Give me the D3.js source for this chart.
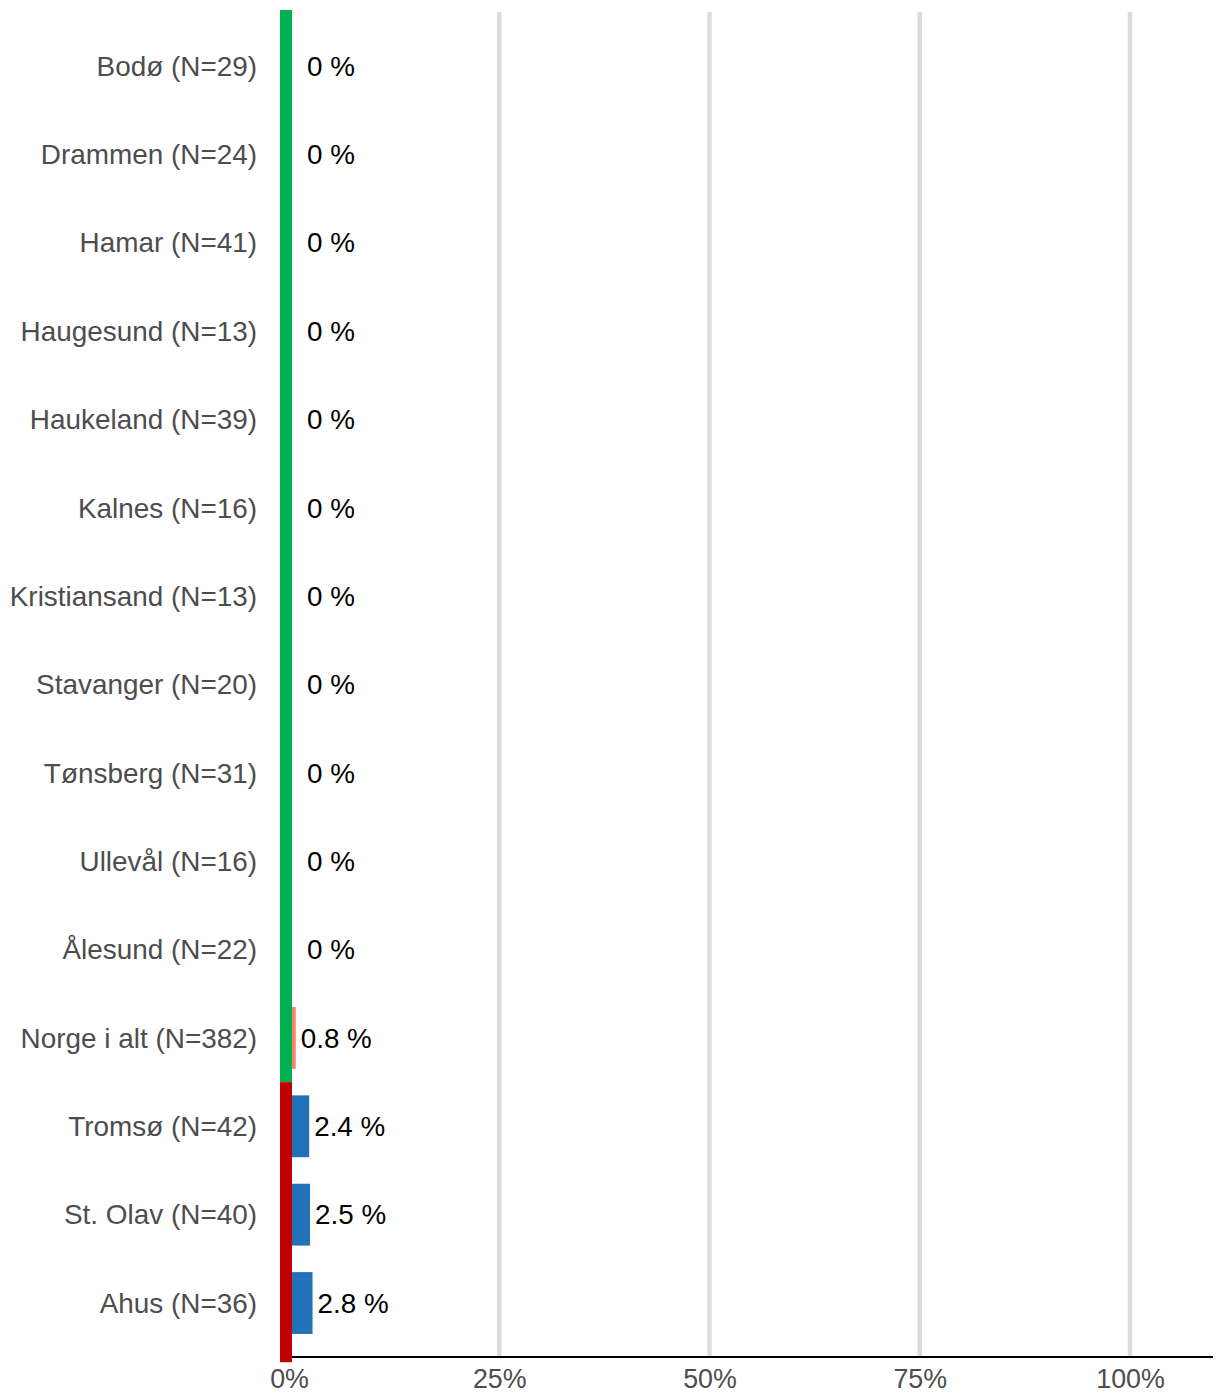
<!DOCTYPE html>
<html>
<head>
<meta charset="utf-8">
<script src="https://cdn.jsdelivr.net/npm/d3@7"></script>
<style>
  body { margin: 0; background: #fff; }
  text { font-family: "Liberation Sans", Arial, sans-serif; }
</style>
</head>
<body>
<div id="chart"></div>
<script>
var categories = ['Bodø (N=29)', 'Drammen (N=24)', 'Hamar (N=41)', 'Haugesund (N=13)',
  'Haukeland (N=39)', 'Kalnes (N=16)', 'Kristiansand (N=13)', 'Stavanger (N=20)',
  'Tønsberg (N=31)', 'Ullevål (N=16)', 'Ålesund (N=22)', 'Norge i alt (N=382)',
  'Tromsø (N=42)', 'St. Olav (N=40)', 'Ahus (N=36)'];
var values = [0, 0, 0, 0, 0, 0, 0, 0, 0, 0, 0, 0.8, 2.4, 2.5, 2.8];
var valueLabels = ['0 %', '0 %', '0 %', '0 %', '0 %', '0 %', '0 %', '0 %', '0 %', '0 %', '0 %',
  '0.8 %', '2.4 %', '2.5 %', '2.8 %'];
var totalLabel = 'Norge i alt (N=382)';
var ticks = [0, 25, 50, 75, 100];
var targetLimit = 1;

(function () {
  var width = 1216;
  var height = 1394;
  var margin = { top: 23, right: 3, bottom: 46, left: 289 };

  var data = categories.map(function (c, i) {
    return { name: c, value: values[i], label: valueLabels[i] };
  });

  var xScale = d3.scaleLinear().domain([0, 100]).range([289, 1130]);
  var yScale = d3.scaleBand().domain(categories)
      .range([margin.top - 1.2, 1347.2])
      .paddingInner(0.3).paddingOuter(0.15);
  var step = yScale.step();

  var svg = d3.select('#chart').append('svg')
      .attr('width', width)
      .attr('height', height);

  // gridlines
  svg.selectAll('line.grid').data(ticks.filter(function (t) { return t > 0; }))
    .enter().append('line')
      .attr('class', 'grid')
      .attr('x1', function (d) { return xScale(d); })
      .attr('x2', function (d) { return xScale(d); })
      .attr('y1', 12)
      .attr('y2', 1357)
      .attr('stroke', '#dcdcdc')
      .attr('stroke-width', 4.5);

  // x axis
  var xAxis = d3.axisBottom(xScale).tickValues(ticks)
      .tickFormat(function (d) { return d + '%'; })
      .tickSize(0).tickPadding(12);
  var xAxisEl = svg.append('g').attr('class', 'x-axis')
      .attr('transform', 'translate(0,1357)')
      .call(xAxis);
  xAxisEl.select('.domain').remove();
  xAxisEl.selectAll('text')
      .attr('fill', '#4d4d4d')
      .style('font-size', '26.8px')
      .style('font-family', '"Liberation Sans", Arial, sans-serif');
  svg.append('line')
      .attr('x1', 292).attr('x2', 1213)
      .attr('y1', 1357).attr('y2', 1357)
      .attr('stroke', '#000').attr('stroke-width', 2);

  // bars
  svg.selectAll('rect.bar').data(data)
    .enter().append('rect')
      .attr('class', 'bar')
      .attr('x', xScale(0))
      .attr('y', function (d) { return yScale(d.name); })
      .attr('width', function (d) { return xScale(d.value) - xScale(0); })
      .attr('height', yScale.bandwidth())
      .attr('fill', function (d) { return d.name === totalLabel ? '#f8826b' : '#2372b8'; });

  // target band on the left
  var splitIdx = data.findIndex(function (d) { return d.value > targetLimit; });
  var splitY = yScale(categories[splitIdx]) - step * 0.15;
  var topY = 10;
  var botY = yScale(categories[categories.length - 1]) + yScale.bandwidth() + step * 0.15 + 15;
  svg.append('rect').attr('x', 280).attr('width', 12)
      .attr('y', topY).attr('height', splitY - topY).attr('fill', '#00b050');
  svg.append('rect').attr('x', 280).attr('width', 12)
      .attr('y', splitY).attr('height', botY - splitY).attr('fill', '#c00000');

  // value labels
  svg.selectAll('text.val').data(data)
    .enter().append('text')
      .attr('class', 'val')
      .attr('x', function (d) { return d.value === 0 ? xScale(0) + 18 : xScale(d.value) + 5; })
      .attr('y', function (d) { return yScale(d.name) + yScale.bandwidth() / 2; })
      .attr('dy', '0.35em')
      .attr('fill', '#000')
      .style('font-size', '27.8px')
      .text(function (d) { return d.label; });

  // category labels
  svg.selectAll('text.cat').data(data)
    .enter().append('text')
      .attr('class', 'cat')
      .attr('x', 257)
      .attr('y', function (d) { return yScale(d.name) + yScale.bandwidth() / 2; })
      .attr('dy', '0.35em')
      .attr('text-anchor', 'end')
      .attr('fill', '#4d4d4d')
      .style('font-size', '27.9px')
      .text(function (d) { return d.name; });
})();
</script>
</body>
</html>
